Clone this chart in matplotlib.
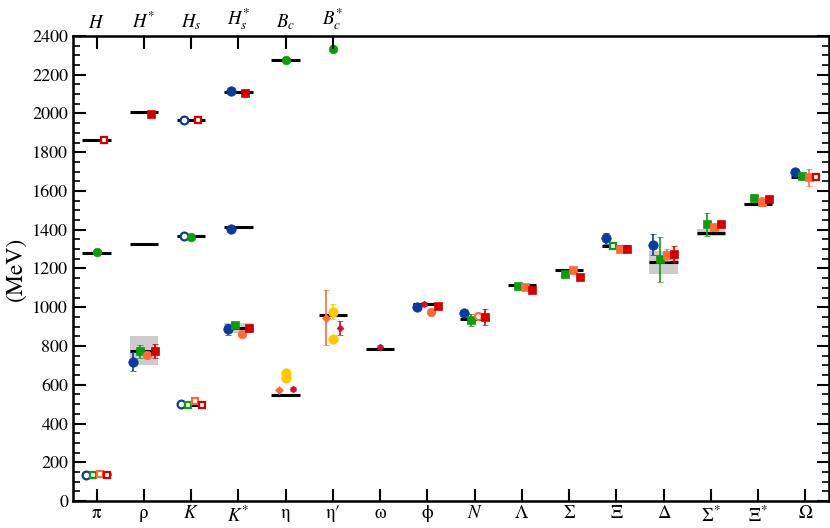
import numpy as np
import matplotlib
matplotlib.use("Agg")
import matplotlib.pyplot as plt

plt.rcParams["font.family"] = ["STIXGeneral", "DejaVu Serif"]
plt.rcParams["mathtext.fontset"] = "stix"

nan = np.nan

# categorias de baixo (hadrons leves) e de cima (mesons pesados)
cats = ["π", "ρ", "$K$", "$K^{*}$", "η", "η′", "ω", "ϕ", "$N$",
        "Λ", "Σ", "Ξ", "Δ", "Σ$^{*}$", "Ξ$^{*}$", "Ω"]
top_cats = ["$H$", "$H^{*}$", "$H_{s}$", "$H_{s}^{*}$", "$B_{c}$", "$B_{c}^{*}$"]

# valores experimentais (linha preta) e meia-largura (faixa cinza)
exp_light = [138, 775, 495, 892, 548, 958, 783, 1019, 939,
             1116, 1193, 1318, 1232, 1385, 1533, 1672]
exp_width = [0, 75, 0, 25, 0, 0, 4, 2, 0, 0, 0, 0, 58, 18, 5, 0]

# mesons pesados (B deslocado de -4000 MeV)
exp_heavy_cat = [1, 1, 2, 2, 3, 3, 4, 4, 5]
exp_heavy = [1865, 1279, 2007, 1325, 1968, 1367, 2112, 1415, 2276]

# resultados de rede - hadrons leves
blue_val = [135, 719, 499, 886, nan, nan, nan, 1003, 969, nan, nan, 1356, 1323, nan, nan, 1698]
blue_err = [0, 50, 0, 28, 0, 0, 0, 15, 15, 0, 0, 28, 54, 0, 0, 12]

green_val = [135, 773, 495, 907, nan, nan, nan, nan, 934, 1111, 1172, 1316, 1247, 1428, 1565, 1676]
green_err = [0, 33, 0, 8, 0, 0, 0, 0, 33, 15, 12, 0, 117, 60, 15, 12]

orange_val = [140, 755, 518, 862, nan, nan, nan, 977, 953, 1106, 1194, 1301, 1268, 1412, 1545, 1671]
orange_err = [0, 10, 0, 10, 0, 0, 0, 10, 10, 15, 15, 15, 31, 18, 22, 44]

red_val = [135, 774, 495, 894, nan, nan, nan, 1006, 951, 1091, 1155, 1302, 1275, 1430, 1560, 1672]
red_err = [0, 35, 0, 8, 0, 0, 0, 8, 40, 8, 8, 8, 40, 15, 8, 0]

# eta, eta', omega, phi
crimson_cat = [5, 6, 7, 8]
crimson_val = [580, 894, 795, 1017]
crimson_err = [10, 35, 10, 8]

yellow_cat = [5, 5, 6, 6]
yellow_val = [661, 633, 977, 835]
yellow_err = [0, 0, 40, 0]

diamond_cat = [5, 6]
diamond_val = [571, 946]
diamond_err = [0, 141]

# mesons pesados
blue_h_cat = [3, 3, 4, 4]
blue_h_val = [1968, 1367, 2116, 1405]
green_h_cat = [1, 3, 5, 6]
green_h_val = [1287, 1363, 2277, 2331]
green_h_err = [12, 0, 0, 0]
red_h_cat = [1, 2, 3, 4]
red_h_val = [1865, 1996, 1968, 2103]

# estilos
C_BLUE = "#0a3a9c"
C_GREEN = "#109a10"
C_ORANGE = "#ff6a3a"
C_RED = "#d00000"
C_CRIMSON = "#d0102a"
C_YELLOW = "#ffc800"

fig = plt.figure(figsize=(8.30, 5.28), dpi=100)
ax = fig.add_axes([0.088, 0.051, 0.9106, 0.881])

x = np.arange(1, len(cats) + 1)
hw = 0.3

# faixas cinzas e linhas experimentais
for xi, v, w in zip(x, exp_light, exp_width):
    if w > 0:
        ax.fill_between([xi - hw, xi + hw], v - w, v + w, color="#cccccc", lw=0, zorder=1)
    ax.plot([xi - hw, xi + hw], [v, v], color="black", lw=2.2, zorder=2, solid_capstyle="butt")
for xi, v in zip(exp_heavy_cat, exp_heavy):
    ax.plot([xi - hw, xi + hw], [v, v], color="black", lw=2.2, zorder=2, solid_capstyle="butt")


def draw(xs, vals, errs, color, marker, ms, open_idx=()):
    for i, (xi, v, e) in enumerate(zip(xs, vals, errs)):
        if np.isnan(v):
            continue
        is_open = i in open_idx
        ax.errorbar(xi, v, yerr=e if e > 0 else None, fmt=marker, color=color,
                    ms=ms - 1.2 if is_open else ms, mfc="white" if is_open else color,
                    mec=color, mew=1.6 if is_open else 0.5, elinewidth=1.2,
                    capsize=2.5, capthick=1.2, zorder=4)


draw(x - 0.225, blue_val, blue_err, C_BLUE, "o", 6.8, open_idx=(0, 2))
draw(x - 0.075, green_val, green_err, C_GREEN, "s", 6.2, open_idx=(0, 2, 11))
orange_marks = ["s", "o", "s", "o", "o", "o", "o", "o", "o", "s", "s", "s", "s", "s", "s", "s"]
for i in range(len(cats)):
    draw([x[i] + 0.075], [orange_val[i]], [orange_err[i]], C_ORANGE, orange_marks[i], 6.2,
         open_idx=(0,) if i in (0, 2, 8) else ())
draw(x + 0.225, red_val, red_err, C_RED, "s", 6.2, open_idx=(0, 2, 15))

crimson_shift = [0.15, 0.15, 0.0, -0.075]
draw(np.array(crimson_cat) + np.array(crimson_shift), crimson_val, crimson_err, C_CRIMSON, "D", 3.5)
draw(yellow_cat, yellow_val, yellow_err, C_YELLOW, "o", 6.8)
draw(np.array(diamond_cat) - 0.15, diamond_val, diamond_err, C_ORANGE, "D", 4.5)

draw(np.array(blue_h_cat) - 0.15, blue_h_val, [0] * 4, C_BLUE, "o", 6.8, open_idx=(0, 1))
draw(green_h_cat, green_h_val, green_h_err, C_GREEN, "o", 6.2)
draw(np.array(red_h_cat) + 0.15, red_h_val, [0] * 4, C_RED, "s", 6.2, open_idx=(0, 2))

# eixos
ax.set_xlim(0.5, len(cats) + 0.5)
ax.set_ylim(0, 2400)
ax.set_xticks(x)
ax.set_xticklabels(cats, fontsize=13.5)
ax.set_yticks(np.arange(0, 2401, 200))
ax.set_yticks(np.arange(0, 2401, 50), minor=True)
ax.tick_params(axis="y", which="major", direction="in", length=9, width=1.5,
               right=True, labelsize=13)
ax.tick_params(axis="y", which="minor", direction="in", length=5, width=1.2, right=True)
ax.tick_params(axis="x", direction="in", length=9, width=1.5, pad=3)
for sp in ax.spines.values():
    sp.set_linewidth(1.8)
ax.set_ylabel("(MeV)", fontsize=17, labelpad=4)

ax_top = ax.twiny()
ax_top.set_xlim(ax.get_xlim())
ax_top.set_xticks(np.arange(1, len(top_cats) + 1))
ax_top.set_xticklabels(top_cats, fontsize=13.5)
ax_top.tick_params(axis="x", direction="in", length=9, width=1.5, pad=3)

plt.savefig("out.png", dpi=100)
plt.close("all")
